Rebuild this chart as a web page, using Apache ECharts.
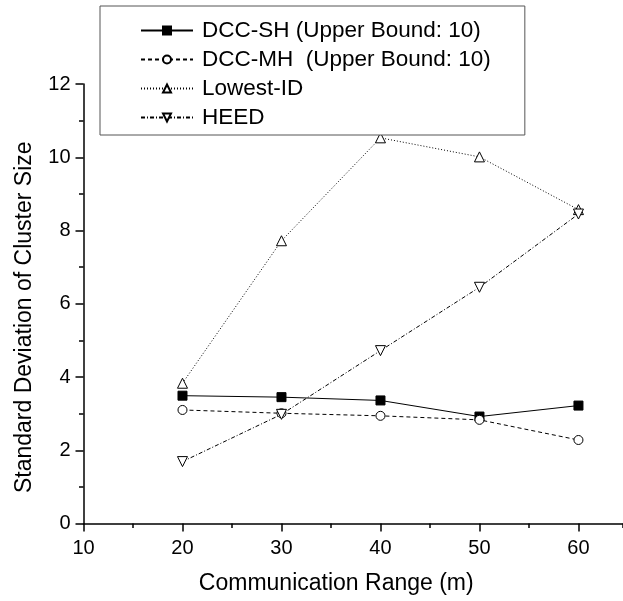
<!DOCTYPE html>
<html>
<head>
<meta charset="utf-8">
<script src="https://cdn.jsdelivr.net/npm/echarts@6/dist/echarts.min.js"></script>
<style>html,body{margin:0;padding:0;background:#fff}#c{width:623px;height:601px}</style>
</head>
<body>
<div id="c"></div>
<script>
var ranges = [20, 30, 40, 50, 60];
var dccSH = [3.49, 3.45, 3.36, 2.92, 3.22];
var dccMH = [3.10, 3.01, 2.94, 2.83, 2.28];
var lowestID = [3.83, 7.72, 10.53, 10.01, 8.57];
var heed = [1.69, 2.98, 4.72, 6.45, 8.45];
var seriesNames = ['DCC-SH (Upper Bound: 10)', 'DCC-MH  (Upper Bound: 10)', 'Lowest-ID', 'HEED'];

function pairs(vals) { return ranges.map(function (x, i) { return [x, vals[i]]; }); }

var font = '"Liberation Sans", Arial, sans-serif';
var chart = echarts.init(document.getElementById('c'), null, {renderer: 'canvas'});
chart.setOption({
  animation: false,
  backgroundColor: '#fff',
  textStyle: {fontFamily: font, color: '#000'},
  grid: {left: 83.5, right: 0, top: 84, bottom: 77.5, containLabel: false},
  legend: {
    orient: 'vertical', left: 100, top: 6,
    padding: [13, 34, 6, 40],
    borderColor: '#555', borderWidth: 1, backgroundColor: '#fff',
    itemWidth: 52, itemHeight: 10, itemGap: 6,
    textStyle: {fontSize: 22.5, lineHeight: 22, color: '#000', fontFamily: font, padding: [0, 0, 0, 4]},
    data: seriesNames
  },
  xAxis: [{
    type: 'value', min: 10, max: 64.5, interval: 10,
    name: 'Communication Range (m)', nameLocation: 'middle', nameGap: 49,
    nameTextStyle: {fontSize: 23, color: '#000', fontFamily: font, padding: [0, 34, 0, 0]},
    axisLine: {show: true, lineStyle: {color: '#000', width: 1.5}},
    axisTick: {show: true, length: 8, lineStyle: {color: '#000', width: 1.5}},
    axisLabel: {fontSize: 20, color: '#000', margin: 15, showMaxLabel: false, fontFamily: font},
    splitLine: {show: false}
  }, {
    type: 'value', min: 10, max: 64.5, interval: 5, position: 'bottom',
    axisLine: {show: false},
    axisTick: {show: true, length: 4.5, lineStyle: {color: '#000', width: 1.5}},
    axisLabel: {show: false},
    splitLine: {show: false}
  }],
  yAxis: {
    type: 'value', min: 0, max: 12, interval: 2,
    name: 'Standard Deviation of Cluster Size', nameLocation: 'middle', nameGap: 47,
    nameTextStyle: {fontSize: 23, color: '#000', fontFamily: font, padding: [0, 27, 0, 0]},
    axisLine: {show: true, lineStyle: {color: '#000', width: 1.5}},
    axisTick: {show: true, length: 8, lineStyle: {color: '#000', width: 1.5}},
    minorTick: {show: true, splitNumber: 2, length: 4.5, lineStyle: {color: '#000', width: 1.5}},
    axisLabel: {fontSize: 20, color: '#000', margin: 13, fontFamily: font},
    splitLine: {show: false}
  },
  series: [{
    name: seriesNames[0], type: 'line', data: pairs(dccSH),
    symbol: 'rect', symbolSize: 9,
    itemStyle: {color: '#000', borderColor: '#000', borderWidth: 1},
    lineStyle: {color: '#000', width: 1, type: 'solid'}
  }, {
    name: seriesNames[1], type: 'line', data: pairs(dccMH),
    symbol: 'circle', symbolSize: 9,
    itemStyle: {color: '#fff', borderColor: '#000', borderWidth: 1},
    lineStyle: {color: '#000', width: 1, type: [4, 3]}
  }, {
    name: seriesNames[2], type: 'line', data: pairs(lowestID),
    symbol: 'triangle', symbolSize: 10,
    itemStyle: {color: '#fff', borderColor: '#000', borderWidth: 1},
    lineStyle: {color: '#000', width: 1, type: [1, 2]}
  }, {
    name: seriesNames[3], type: 'line', data: pairs(heed),
    symbol: 'path://M0,0L10,0L5,9Z', symbolSize: 10,
    itemStyle: {color: '#fff', borderColor: '#000', borderWidth: 1},
    lineStyle: {color: '#000', width: 1, type: [4, 2, 1, 2]}
  }]
});
</script>
</body>
</html>
